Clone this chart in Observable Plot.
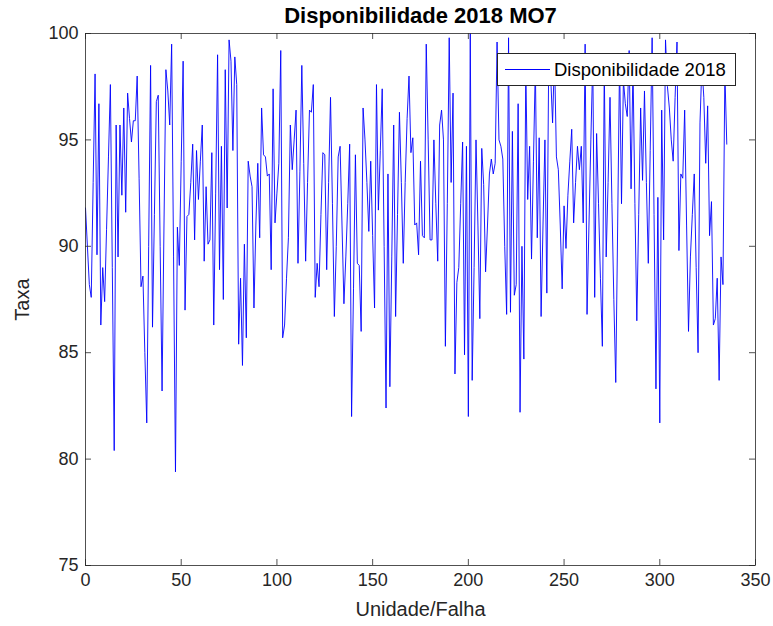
<!DOCTYPE html>
<html><head><meta charset="utf-8">
<script src="https://cdn.jsdelivr.net/npm/d3@7"></script>
<script src="https://cdn.jsdelivr.net/npm/@observablehq/plot@0.6"></script>
<style>
body{margin:0;background:#fff;}
#wrap{position:relative;width:773px;height:626px;font-family:"Liberation Sans",Arial,Helvetica,sans-serif;}
#legend{position:absolute;left:497px;top:53px;width:237px;height:31px;border:1px solid #262626;background:#fff;box-sizing:content-box;}
#legend svg{position:absolute;left:0;top:0;}
#legend span{position:absolute;left:56px;top:5px;font-size:18.5px;color:#000;white-space:nowrap;}
</style></head>
<body><div id="wrap"></div>
<script>
const chartTitle = "Disponibilidade 2018 MO7";
const seriesName = "Disponibilidade 2018";
const xLabel = "Unidade/Falha";
const yLabel = "Taxa";
const xTicks = [0, 50, 100, 150, 200, 250, 300, 350];
const yTicks = [75, 80, 85, 90, 95, 100];
const disponibilidade = [
91.8,90.0,88.2,87.6,93.0,98.1,89.6,96.7,86.3,89.0,
87.4,90.8,94.2,97.6,89.0,80.4,95.7,89.5,95.7,92.4,
96.5,91.6,97.2,96.0,94.9,95.9,95.9,98.0,93.2,88.1,
88.6,85.0,81.7,90.0,98.5,86.2,91.5,96.8,97.1,90.0,
83.2,91.0,98.3,97.3,95.7,99.5,89.5,79.4,90.9,89.1,
94.0,98.7,87.0,91.4,91.5,93.0,94.8,90.3,94.5,92.2,
94.0,95.7,89.3,92.8,90.1,90.3,94.4,86.3,92.5,99.0,
88.9,94.7,87.5,98.3,91.8,99.7,98.7,94.5,98.9,97.6,
85.4,88.5,84.4,90.1,85.7,94.0,93.3,92.8,87.1,91.0,
93.9,90.4,96.5,94.3,94.2,93.3,93.4,88.9,97.4,91.1,
92.5,93.9,99.2,85.7,86.3,88.5,90.4,95.7,93.6,95.0,
96.4,89.2,93.5,98.5,93.9,89.3,93.0,96.4,96.3,97.6,
87.6,89.2,88.1,91.5,94.4,94.3,88.9,93.0,97.0,92.0,
86.7,90.0,94.2,94.7,91.0,87.3,89.5,92.0,94.8,82.0,
88.0,94.3,89.2,89.1,86.0,96.5,95.0,93.0,90.7,94.0,
90.5,87.1,97.6,91.7,94.5,97.4,90.0,82.4,93.4,83.4,
89.5,95.7,86.7,91.5,96.3,93.0,89.2,93.0,96.0,98.0,
94.4,95.1,91.0,91.1,89.6,94.0,90.5,90.4,99.5,95.0,
90.3,90.3,95.0,92.0,89.3,95.7,96.4,95.0,85.3,92.0,
99.8,93.0,97.2,84.0,88.3,89.0,92.0,94.9,84.9,94.7,
82.0,100.0,83.7,89.0,95.0,91.0,86.6,94.6,92.9,88.8,
91.0,93.4,94.1,93.4,93.9,99.6,95.0,94.7,94.1,90.0,
86.8,99.8,86.9,95.4,87.7,88.2,96.7,82.2,90.0,84.7,
98.5,92.2,94.7,89.4,94.0,98.5,90.4,95.1,86.7,91.0,
95.0,87.8,99.0,98.0,95.8,99.0,94.2,93.6,91.0,88.0,
91.9,89.9,92.4,94.0,95.5,91.1,93.0,94.7,93.6,94.7,
91.1,99.5,86.8,91.0,95.0,98.8,87.6,95.3,92.0,88.5,
85.3,98.5,89.5,93.0,97.0,92.0,87.5,83.6,91.0,98.8,
92.0,97.8,96.7,96.1,99.2,92.7,98.5,92.0,86.5,91.5,
96.5,93.1,97.3,93.0,89.2,94.5,99.8,91.5,83.3,92.3,
81.7,96.4,90.3,99.7,97.5,96.5,95.0,94.0,97.0,99.6,
89.8,93.4,93.2,96.4,91.0,86.0,89.5,91.5,93.4,89.0,
85.0,95.8,98.5,97.0,93.9,96.6,90.5,92.1,86.3,86.6,
88.5,83.7,89.5,88.2,98.2,94.8
];

const data = disponibilidade.map((v, i) => ({unidade: i, taxa: v}));
const W = 773, H = 626, mL = 85, mR = 18, mT = 33, mB = 61;
const innerW = W - mL - mR, innerH = H - mT - mB;
const axisColor = "#262626";
const font = "'Liberation Sans', Arial, Helvetica, sans-serif";

const chart = Plot.plot({
  width: W, height: H,
  marginLeft: mL, marginRight: mR, marginTop: mT, marginBottom: mB,
  style: {fontFamily: font, fontSize: "18px", color: axisColor, background: "#fff", overflow: "visible"},
  x: {domain: [0, 350]},
  y: {domain: [75, 100]},
  marks: [
    Plot.line(data, {x: "unidade", y: "taxa", stroke: "#0000ff", strokeWidth: 0.9}),
    Plot.axisX({ticks: xTicks, tickSize: 0, tickPadding: 8, label: null, fontSize: 18, fill: axisColor}),
    Plot.axisY({ticks: yTicks, tickSize: 0, tickPadding: 7, label: null, fontSize: 18, fill: axisColor}),
    Plot.tickX(xTicks, {x: d => d, insetTop: innerH - 6, stroke: axisColor, strokeWidth: 0.8}),
    Plot.tickX(xTicks, {x: d => d, insetBottom: innerH - 6, stroke: axisColor, strokeWidth: 0.8}),
    Plot.tickY(yTicks, {y: d => d, insetRight: innerW - 6, stroke: axisColor, strokeWidth: 0.8}),
    Plot.tickY(yTicks, {y: d => d, insetLeft: innerW - 6, stroke: axisColor, strokeWidth: 0.8}),
    Plot.frame({stroke: axisColor, strokeWidth: 0.8}),
    Plot.text([chartTitle], {frameAnchor: "top", lineAnchor: "middle", textAnchor: "middle", dy: -18, fontWeight: "bold", fontSize: 22, fill: "#000"}),
    Plot.text([xLabel], {frameAnchor: "bottom", lineAnchor: "middle", textAnchor: "middle", dy: 44, fontSize: 20, fill: axisColor}),
    Plot.text([yLabel], {frameAnchor: "left", lineAnchor: "middle", textAnchor: "middle", dx: -63, rotate: -90, fontSize: 20, fill: axisColor})
  ]
});
const wrap = document.getElementById("wrap");
wrap.appendChild(chart);

const legend = document.createElement("div");
legend.id = "legend";
legend.innerHTML = `<svg width="237" height="31"><line x1="7" x2="52" y1="15.5" y2="15.5" stroke="#0000ff" stroke-width="1"/></svg><span>${seriesName}</span>`;
wrap.appendChild(legend);
</script>
</body></html>
